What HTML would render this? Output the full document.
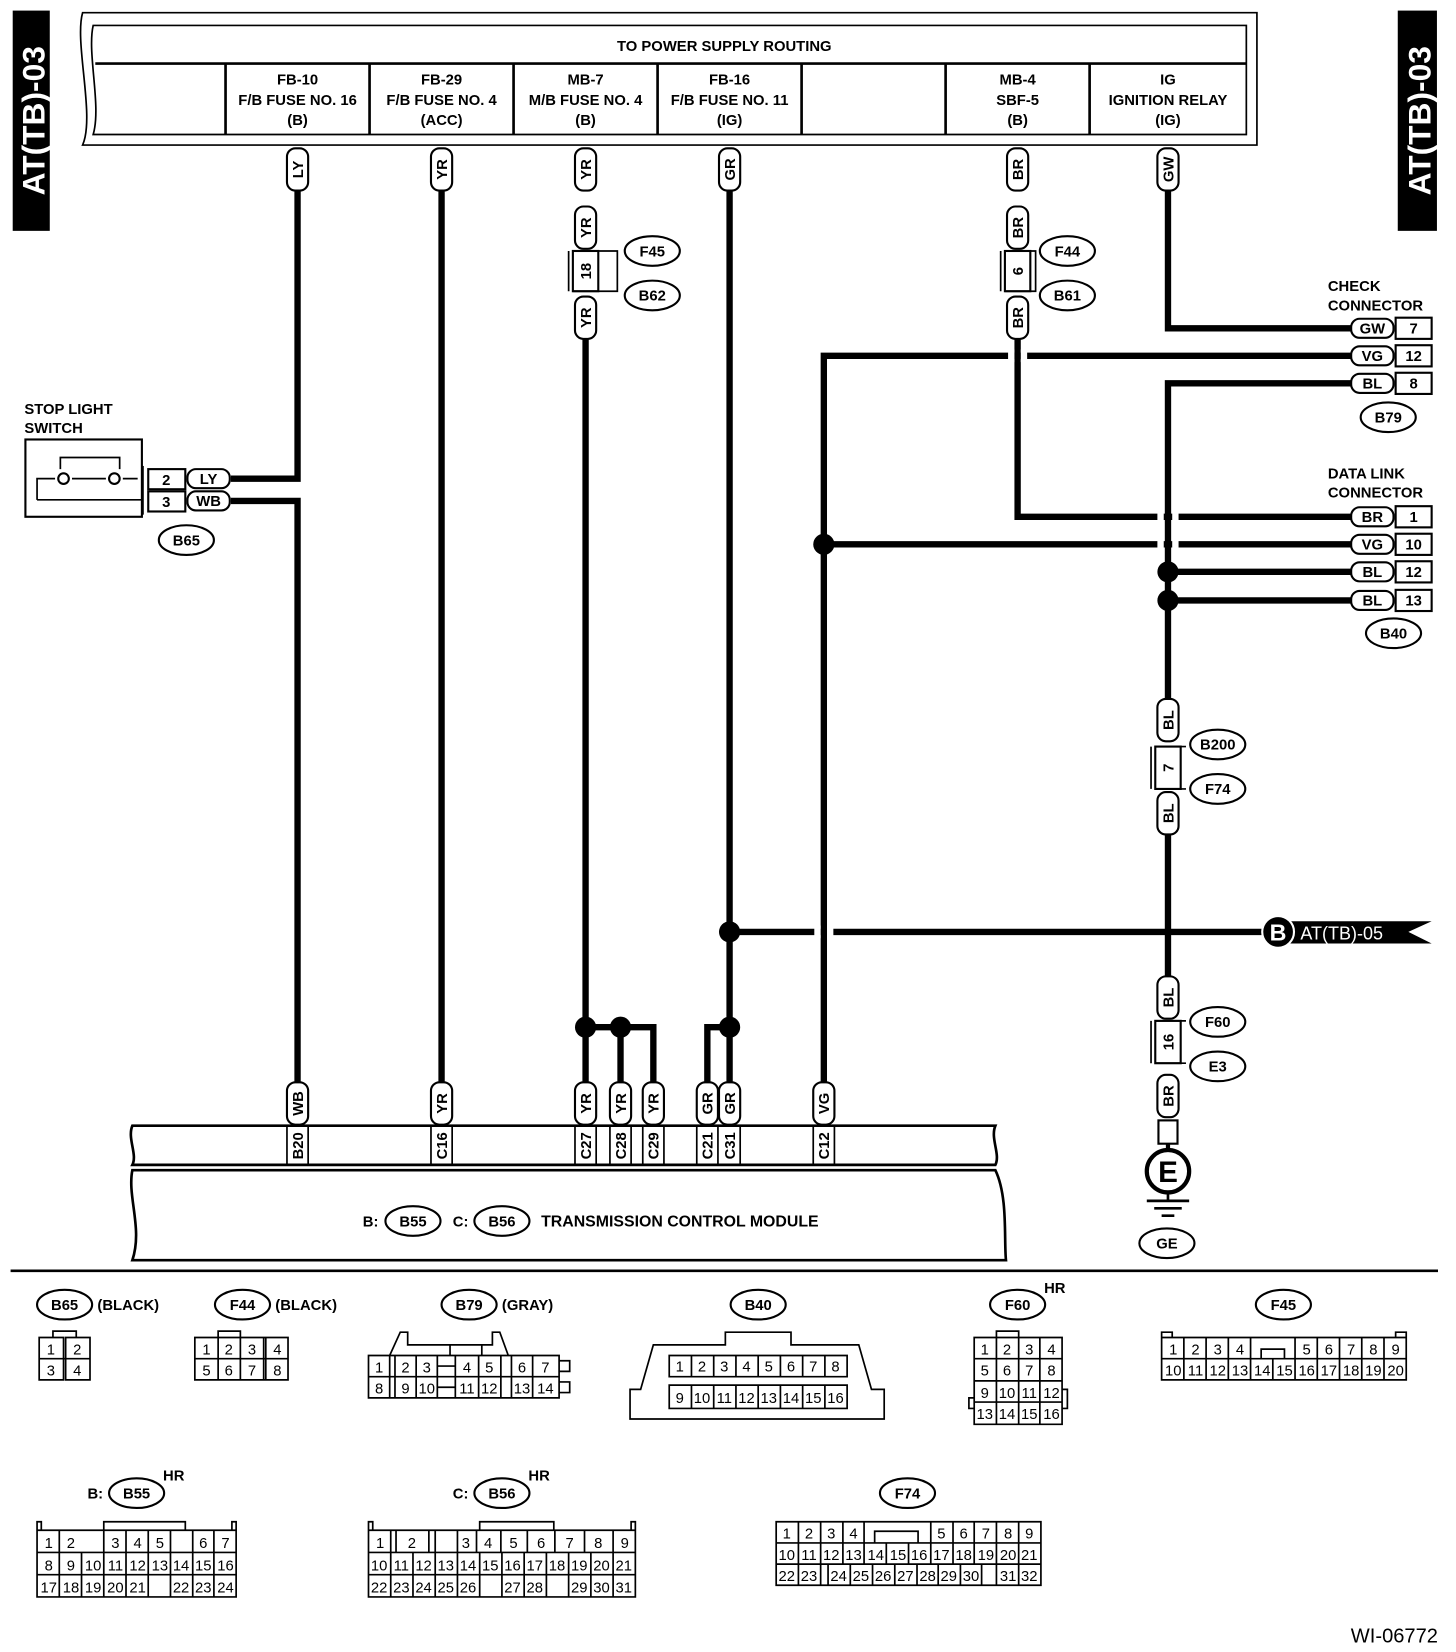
<!DOCTYPE html>
<html><head><meta charset="utf-8"><style>
html,body{margin:0;padding:0;background:#fff}
svg{display:block}
text{font-family:"Liberation Sans",Arial,sans-serif;fill:#000}
.b{font-weight:bold;font-size:14px;text-anchor:middle}
.c{font-size:14px;text-anchor:middle}
.w{fill:none;stroke:#000;stroke-width:6}
.l{fill:none;stroke:#000;stroke-width:1.6}
.p{fill:#fff;stroke:#000;stroke-width:2}
</style></head><body>
<svg width="1456" height="1652" viewBox="0 0 1375 1560" preserveAspectRatio="none" xmlns="http://www.w3.org/2000/svg">
<!-- side tabs -->
<rect x="12" y="10" width="35" height="208" fill="#000"/>
<text transform="translate(42,114) rotate(-90)" style="font-size:30px;font-weight:bold;fill:#fff;text-anchor:middle">AT(TB)-03</text>
<rect x="1320" y="10" width="37" height="208" fill="#000"/>
<text transform="translate(1351,114) rotate(-90)" style="font-size:30px;font-weight:bold;fill:#fff;text-anchor:middle">AT(TB)-03</text>

<!-- top box -->
<path class="l" d="M78,12 H1187 V137 H78 C90,110 70,40 78,12 Z" stroke-width="3"/>
<path class="l" d="M88,24 H1177 V127 H88 C96,100 82,50 88,24 Z" stroke-width="3"/>
<line x1="90" y1="60" x2="1177" y2="60" stroke="#000" stroke-width="2.5"/>
<path stroke="#000" stroke-width="2.5" d="M213,60V127M349,60V127M485,60V127M621,60V127M757,60V127M893,60V127M1029,60V127"/>
<text class="b" x="684" y="48">TO POWER SUPPLY ROUTING</text>
<g class="b">
<text class="b" x="281" y="80">FB-10</text><text class="b" x="281" y="99">F/B FUSE NO. 16</text><text class="b" x="281" y="118">(B)</text>
<text class="b" x="417" y="80">FB-29</text><text class="b" x="417" y="99">F/B FUSE NO. 4</text><text class="b" x="417" y="118">(ACC)</text>
<text class="b" x="553" y="80">MB-7</text><text class="b" x="553" y="99">M/B FUSE NO. 4</text><text class="b" x="553" y="118">(B)</text>
<text class="b" x="689" y="80">FB-16</text><text class="b" x="689" y="99">F/B FUSE NO. 11</text><text class="b" x="689" y="118">(IG)</text>
<text class="b" x="961" y="80">MB-4</text><text class="b" x="961" y="99">SBF-5</text><text class="b" x="961" y="118">(B)</text>
<text class="b" x="1103" y="80">IG</text><text class="b" x="1103" y="99">IGNITION RELAY</text><text class="b" x="1103" y="118">(IG)</text>
</g>

<!-- wires -->
<path class="w" d="M281,180V452H218"/>
<path class="w" d="M218,473H281V1025"/>
<path class="w" d="M417,180V1025"/>
<path class="w" d="M553,320V1025M553,970H617V1025M586,970V1025"/>
<path class="w" d="M689,180V1025M689,970H668V1025"/>
<path class="w" d="M961,320V488H1278"/>
<path class="w" d="M1103,180V310H1278"/>
<path class="w" d="M778,1025V336H1278"/>
<path class="w" d="M778,514H1278"/>
<path class="w" d="M1278,362H1103V660"/>
<path class="w" d="M1103,540H1278M1103,567H1278"/>
<path class="w" d="M1103,788V922"/>
<path class="w" d="M689,880H1195"/>
<!-- crossing gaps -->
<rect x="952" y="330" width="6" height="12" fill="#fff"/><rect x="964" y="330" width="6" height="12" fill="#fff"/>
<rect x="1093" y="482" width="6" height="12" fill="#fff"/><rect x="1107" y="482" width="6" height="12" fill="#fff"/>
<rect x="1093" y="508" width="6" height="12" fill="#fff"/><rect x="1107" y="508" width="6" height="12" fill="#fff"/>
<rect x="769" y="874" width="6" height="12" fill="#fff"/><rect x="781" y="874" width="6" height="12" fill="#fff"/>
<!-- junction dots -->
<g fill="#000"><circle cx="778" cy="514" r="10"/><circle cx="1103" cy="540" r="10"/><circle cx="1103" cy="567" r="10"/><circle cx="689" cy="880" r="10"/><circle cx="553" cy="970" r="10"/><circle cx="586" cy="970" r="10"/><circle cx="689" cy="970" r="10"/></g>

<!-- vertical pills -->
<g>
<rect class="p" x="271" y="140" width="20" height="40" rx="8"/><text class="b" transform="translate(286,160) rotate(-90)">LY</text>
<rect class="p" x="407" y="140" width="20" height="40" rx="8"/><text class="b" transform="translate(422,160) rotate(-90)">YR</text>
<rect class="p" x="543" y="140" width="20" height="40" rx="8"/><text class="b" transform="translate(558,160) rotate(-90)">YR</text>
<rect class="p" x="679" y="140" width="20" height="40" rx="8"/><text class="b" transform="translate(694,160) rotate(-90)">GR</text>
<rect class="p" x="951" y="140" width="20" height="40" rx="8"/><text class="b" transform="translate(966,160) rotate(-90)">BR</text>
<rect class="p" x="1093" y="140" width="20" height="40" rx="8"/><text class="b" transform="translate(1108,160) rotate(-90)">GW</text>
<rect class="p" x="543" y="195" width="20" height="40" rx="8"/><text class="b" transform="translate(558,215) rotate(-90)">YR</text>
<rect class="p" x="543" y="280" width="20" height="40" rx="8"/><text class="b" transform="translate(558,300) rotate(-90)">YR</text>
<rect class="p" x="951" y="195" width="20" height="40" rx="8"/><text class="b" transform="translate(966,215) rotate(-90)">BR</text>
<rect class="p" x="951" y="280" width="20" height="40" rx="8"/><text class="b" transform="translate(966,300) rotate(-90)">BR</text>
<rect class="p" x="1093" y="660" width="20" height="40" rx="8"/><text class="b" transform="translate(1108,680) rotate(-90)">BL</text>
<rect class="p" x="1093" y="748" width="20" height="40" rx="8"/><text class="b" transform="translate(1108,768) rotate(-90)">BL</text>
<rect class="p" x="1093" y="922" width="20" height="40" rx="8"/><text class="b" transform="translate(1108,942) rotate(-90)">BL</text>
<rect class="p" x="1093" y="1015" width="20" height="40" rx="8"/><text class="b" transform="translate(1108,1035) rotate(-90)">BR</text>
<rect class="p" x="271" y="1022" width="20" height="40" rx="8"/><text class="b" transform="translate(286,1042) rotate(-90)">WB</text>
<rect class="p" x="407" y="1022" width="20" height="40" rx="8"/><text class="b" transform="translate(422,1042) rotate(-90)">YR</text>
<rect class="p" x="543" y="1022" width="20" height="40" rx="8"/><text class="b" transform="translate(558,1042) rotate(-90)">YR</text>
<rect class="p" x="576" y="1022" width="20" height="40" rx="8"/><text class="b" transform="translate(591,1042) rotate(-90)">YR</text>
<rect class="p" x="607" y="1022" width="20" height="40" rx="8"/><text class="b" transform="translate(622,1042) rotate(-90)">YR</text>
<rect class="p" x="658" y="1022" width="20" height="40" rx="8"/><text class="b" transform="translate(673,1042) rotate(-90)">GR</text>
<rect class="p" x="679" y="1022" width="20" height="40" rx="8"/><text class="b" transform="translate(694,1042) rotate(-90)">GR</text>
<rect class="p" x="768" y="1022" width="20" height="40" rx="8"/><text class="b" transform="translate(783,1042) rotate(-90)">VG</text>
</g>
<!-- inline connectors -->
<rect class="p" x="541" y="237" width="24" height="38"/><path class="l" d="M541,237H583V275H541M537,237V275" stroke-width="2"/><text class="b" transform="translate(558,256) rotate(-90)">18</text>
<rect class="p" x="949" y="237" width="24" height="38"/><path class="l" d="M949,237H978V275H949M945,237V275" stroke-width="2"/><text class="b" transform="translate(966,256) rotate(-90)">6</text>
<rect class="p" x="1091" y="705" width="24" height="40"/><path class="l" d="M1087,705V745M1091,705H1120M1091,745H1120" stroke-width="2"/><text class="b" transform="translate(1108,725) rotate(-90)">7</text>
<rect class="p" x="1091" y="964" width="24" height="40"/><path class="l" d="M1087,964V1004M1091,964H1120M1091,1004H1120" stroke-width="2"/><text class="b" transform="translate(1108,984) rotate(-90)">16</text>
<!-- ground -->
<rect class="p" x="1094" y="1058" width="18" height="22"/>
<line x1="1103" y1="1080" x2="1103" y2="1085" stroke="#000" stroke-width="4"/>
<circle cx="1103" cy="1106" r="20" fill="#fff" stroke="#000" stroke-width="4"/>
<text x="1103" y="1116" style="font-size:28px;font-weight:bold;text-anchor:middle">E</text>
<path stroke="#000" stroke-width="2.5" d="M1103,1126V1134M1083,1134H1123M1090,1141H1116M1097,1148H1109"/>

<!-- ovals -->
<g>
<ellipse class="p" cx="616" cy="237" rx="26" ry="14"/><text class="b" x="616" y="242">F45</text>
<ellipse class="p" cx="616" cy="279" rx="26" ry="14"/><text class="b" x="616" y="284">B62</text>
<ellipse class="p" cx="1008" cy="237" rx="26" ry="14"/><text class="b" x="1008" y="242">F44</text>
<ellipse class="p" cx="1008" cy="279" rx="26" ry="14"/><text class="b" x="1008" y="284">B61</text>
<ellipse class="p" cx="1311" cy="394" rx="26" ry="14"/><text class="b" x="1311" y="399">B79</text>
<ellipse class="p" cx="1316" cy="598" rx="26" ry="14"/><text class="b" x="1316" y="603">B40</text>
<ellipse class="p" cx="1150" cy="703" rx="26" ry="14"/><text class="b" x="1150" y="708">B200</text>
<ellipse class="p" cx="1150" cy="745" rx="26" ry="14"/><text class="b" x="1150" y="750">F74</text>
<ellipse class="p" cx="1150" cy="965" rx="26" ry="14"/><text class="b" x="1150" y="970">F60</text>
<ellipse class="p" cx="1150" cy="1007" rx="26" ry="14"/><text class="b" x="1150" y="1012">E3</text>
<ellipse class="p" cx="1102" cy="1174" rx="26" ry="14"/><text class="b" x="1102" y="1179">GE</text>
<ellipse class="p" cx="176" cy="510" rx="26" ry="14"/><text class="b" x="176" y="515">B65</text>
</g>

<!-- stop light switch -->
<text x="23" y="391" style="font-size:14px;font-weight:bold">STOP LIGHT</text>
<text x="23" y="409" style="font-size:14px;font-weight:bold">SWITCH</text>
<rect x="24" y="415" width="110" height="73" fill="#fff" stroke="#000" stroke-width="2"/>
<path class="l" stroke-width="2" d="M35,472V452H52M68,452H100M116,452H130M57,443V432H113V443M35,472H134"/>
<circle cx="60" cy="452" r="5" fill="#fff" stroke="#000" stroke-width="2"/><circle cx="108" cy="452" r="5" fill="#fff" stroke="#000" stroke-width="2"/>
<rect class="p" x="140" y="443" width="35" height="19"/><rect class="p" x="140" y="464" width="35" height="19"/>
<path class="l" stroke-width="2" d="M135,440V486"/>
<text class="b" x="157" y="458">2</text><text class="b" x="157" y="479">3</text>
<rect class="p" x="177" y="443" width="40" height="18" rx="8"/><text class="b" x="197" y="457">LY</text>
<rect class="p" x="177" y="464" width="40" height="18" rx="8"/><text class="b" x="197" y="478">WB</text>

<!-- check connector -->
<text x="1254" y="275" style="font-size:14px;font-weight:bold">CHECK</text>
<text x="1254" y="293" style="font-size:14px;font-weight:bold">CONNECTOR</text>
<g>
<rect class="p" x="1276" y="301" width="40" height="18" rx="8"/><text class="b" x="1296" y="315">GW</text>
<rect class="p" x="1276" y="327" width="40" height="18" rx="8"/><text class="b" x="1296" y="341">VG</text>
<rect class="p" x="1276" y="353" width="40" height="18" rx="8"/><text class="b" x="1296" y="367">BL</text>
<rect class="p" x="1318" y="300" width="34" height="20"/><rect class="p" x="1318" y="326" width="34" height="20"/><rect class="p" x="1318" y="352" width="34" height="20"/>
<text class="b" x="1335" y="315">7</text><text class="b" x="1335" y="341">12</text><text class="b" x="1335" y="367">8</text>
</g>
<!-- data link connector -->
<text x="1254" y="452" style="font-size:14px;font-weight:bold">DATA LINK</text>
<text x="1254" y="470" style="font-size:14px;font-weight:bold">CONNECTOR</text>
<g>
<rect class="p" x="1276" y="479" width="40" height="18" rx="8"/><text class="b" x="1296" y="493">BR</text>
<rect class="p" x="1276" y="505" width="40" height="18" rx="8"/><text class="b" x="1296" y="519">VG</text>
<rect class="p" x="1276" y="531" width="40" height="18" rx="8"/><text class="b" x="1296" y="545">BL</text>
<rect class="p" x="1276" y="558" width="40" height="18" rx="8"/><text class="b" x="1296" y="572">BL</text>
<rect class="p" x="1318" y="478" width="34" height="20"/><rect class="p" x="1318" y="504" width="34" height="20"/><rect class="p" x="1318" y="530" width="34" height="20"/><rect class="p" x="1318" y="557" width="34" height="20"/>
<text class="b" x="1335" y="493">1</text><text class="b" x="1335" y="519">10</text><text class="b" x="1335" y="545">12</text><text class="b" x="1335" y="572">13</text>
</g>
<!-- AT(TB)-05 flag -->
<path d="M1207,870H1352L1330,880L1352,891H1207Z" fill="#000"/>
<circle cx="1207" cy="880" r="15" fill="#000" stroke="#fff" stroke-width="2"/>
<text x="1207" y="888" style="font-size:22px;font-weight:bold;fill:#fff;text-anchor:middle">B</text>
<text x="1228" y="887" style="font-size:17px;fill:#fff">AT(TB)-05</text>

<!-- TCM -->
<path d="M125,1063H940C935,1075 945,1090 940,1100H125C130,1090 120,1075 125,1063Z" fill="#fff" stroke="#000" stroke-width="2.5"/>
<path d="M125,1105H940C952,1130 948,1170 950,1190H125C135,1160 120,1130 125,1105Z" fill="#fff" stroke="#000" stroke-width="2.5"/>
<path stroke="#000" stroke-width="1.6" d="M271,1063V1100M291,1063V1100M407,1063V1100M427,1063V1100M543,1063V1100M563,1063V1100M576,1063V1100M596,1063V1100M607,1063V1100M627,1063V1100M658,1063V1100M678,1063V1100M699,1063V1100M768,1063V1100M788,1063V1100"/>
<g>
<text class="b" transform="translate(286,1082) rotate(-90)">B20</text>
<text class="b" transform="translate(422,1082) rotate(-90)">C16</text>
<text class="b" transform="translate(558,1082) rotate(-90)">C27</text>
<text class="b" transform="translate(591,1082) rotate(-90)">C28</text>
<text class="b" transform="translate(622,1082) rotate(-90)">C29</text>
<text class="b" transform="translate(673,1082) rotate(-90)">C21</text>
<text class="b" transform="translate(694,1082) rotate(-90)">C31</text>
<text class="b" transform="translate(783,1082) rotate(-90)">C12</text>
</g>
<text class="b" x="350" y="1158">B:</text>
<ellipse class="p" cx="390" cy="1153" rx="26" ry="14"/><text class="b" x="390" y="1158">B55</text>
<text class="b" x="435" y="1158">C:</text>
<ellipse class="p" cx="474" cy="1153" rx="26" ry="14"/><text class="b" x="474" y="1158">B56</text>
<text x="511" y="1158" style="font-size:15px;font-weight:bold">TRANSMISSION CONTROL MODULE</text>

<line x1="10" y1="1200" x2="1358" y2="1200" stroke="#000" stroke-width="2.5"/>

<!-- bottom connector labels -->
<g>
<ellipse class="p" cx="61" cy="1232" rx="26" ry="14"/><text class="b" x="61" y="1237">B65</text><text x="92" y="1237" style="font-size:14px;font-weight:bold">(BLACK)</text>
<ellipse class="p" cx="229" cy="1232" rx="26" ry="14"/><text class="b" x="229" y="1237">F44</text><text x="260" y="1237" style="font-size:14px;font-weight:bold">(BLACK)</text>
<ellipse class="p" cx="443" cy="1232" rx="26" ry="14"/><text class="b" x="443" y="1237">B79</text><text x="474" y="1237" style="font-size:14px;font-weight:bold">(GRAY)</text>
<ellipse class="p" cx="716" cy="1232" rx="26" ry="14"/><text class="b" x="716" y="1237">B40</text>
<ellipse class="p" cx="961" cy="1232" rx="26" ry="14"/><text class="b" x="961" y="1237">F60</text><text x="986" y="1221" style="font-size:14px;font-weight:bold">HR</text>
<ellipse class="p" cx="1212" cy="1232" rx="26" ry="14"/><text class="b" x="1212" y="1237">F45</text>
<text class="b" x="90" y="1415">B:</text><ellipse class="p" cx="129" cy="1410" rx="26" ry="14"/><text class="b" x="129" y="1415">B55</text><text x="154" y="1398" style="font-size:14px;font-weight:bold">HR</text>
<text class="b" x="435" y="1415">C:</text><ellipse class="p" cx="474" cy="1410" rx="26" ry="14"/><text class="b" x="474" y="1415">B56</text><text x="499" y="1398" style="font-size:14px;font-weight:bold">HR</text>
<ellipse class="p" cx="857" cy="1410" rx="26" ry="14"/><text class="b" x="857" y="1415">F74</text>
</g>

<!-- B65 grid -->
<path class="l" d="M37,1263H60V1303H37ZM62,1263H85V1303H62ZM37,1283H85M50,1263V1257H72V1263"/>
<text class="c" x="48" y="1279">1</text><text class="c" x="73" y="1279">2</text><text class="c" x="48" y="1299">3</text><text class="c" x="73" y="1299">4</text>
<!-- F44 grid -->
<path class="l" d="M184,1263H272V1303H184ZM184,1283H272M206,1263V1303M227,1263V1303M249,1263V1303M251,1263V1303M206,1263V1257H227V1263"/>
<text class="c" x="195" y="1279">1</text><text class="c" x="216" y="1279">2</text><text class="c" x="238" y="1279">3</text><text class="c" x="262" y="1279">4</text>
<text class="c" x="195" y="1299">5</text><text class="c" x="216" y="1299">6</text><text class="c" x="238" y="1299">7</text><text class="c" x="262" y="1299">8</text>
<!-- B79 grid -->
<path class="l" d="M348,1280H528V1320H348ZM348,1300H528M368,1280V1320M373,1280V1320M393,1280V1320M413,1280V1320M430,1280V1320M452,1280V1320M473,1280V1320M483,1280V1320M503,1280V1320M413,1290H430M413,1310H430M528,1285H538V1295H528M528,1305H538V1315H528M368,1280L378,1258H385V1270H465V1258H472L480,1280M425,1270V1280M455,1270V1280"/>
<text class="c" x="358" y="1296">1</text><text class="c" x="383" y="1296">2</text><text class="c" x="403" y="1296">3</text><text class="c" x="441" y="1296">4</text><text class="c" x="462" y="1296">5</text><text class="c" x="493" y="1296">6</text><text class="c" x="515" y="1296">7</text>
<text class="c" x="358" y="1316">8</text><text class="c" x="383" y="1316">9</text><text class="c" x="403" y="1316">10</text><text class="c" x="441" y="1316">11</text><text class="c" x="462" y="1316">12</text><text class="c" x="493" y="1316">13</text><text class="c" x="515" y="1316">14</text>
<!-- B40 -->
<path class="l" d="M595,1340V1312H605L617,1270H685V1258H747V1270H811L823,1312H835V1340Z"/>
<path class="l" d="M632,1280H800V1300H632ZM632,1308H800V1330H632ZM653,1280V1300M674,1280V1300M695,1280V1300M716,1280V1300M737,1280V1300M758,1280V1300M779,1280V1300M653,1308V1330M674,1308V1330M695,1308V1330M716,1308V1330M737,1308V1330M758,1308V1330M779,1308V1330"/>
<text class="c" x="642" y="1295">1</text><text class="c" x="663" y="1295">2</text><text class="c" x="684" y="1295">3</text><text class="c" x="705" y="1295">4</text><text class="c" x="726" y="1295">5</text><text class="c" x="747" y="1295">6</text><text class="c" x="768" y="1295">7</text><text class="c" x="789" y="1295">8</text>
<text class="c" x="642" y="1325">9</text><text class="c" x="663" y="1325">10</text><text class="c" x="684" y="1325">11</text><text class="c" x="705" y="1325">12</text><text class="c" x="726" y="1325">13</text><text class="c" x="747" y="1325">14</text><text class="c" x="768" y="1325">15</text><text class="c" x="789" y="1325">16</text>
<!-- F60 -->
<path class="l" d="M920,1263H1003V1345H920ZM920,1283H1003M920,1304H1003M920,1324H1003M941,1263V1345M962,1263V1345M982,1263V1345M941,1263V1257H962V1263M1003,1312H1008V1330H1003M920,1320H915V1330H920"/>
<text class="c" x="930" y="1279">1</text><text class="c" x="951" y="1279">2</text><text class="c" x="972" y="1279">3</text><text class="c" x="993" y="1279">4</text>
<text class="c" x="930" y="1299">5</text><text class="c" x="951" y="1299">6</text><text class="c" x="972" y="1299">7</text><text class="c" x="993" y="1299">8</text>
<text class="c" x="930" y="1320">9</text><text class="c" x="951" y="1320">10</text><text class="c" x="972" y="1320">11</text><text class="c" x="993" y="1320">12</text>
<text class="c" x="930" y="1340">13</text><text class="c" x="951" y="1340">14</text><text class="c" x="972" y="1340">15</text><text class="c" x="993" y="1340">16</text>
<!-- F45 -->
<path class="l" d="M1097,1263H1328V1303H1097ZM1097,1283H1328M1118,1263V1303M1139,1263V1303M1160,1263V1303M1181,1263V1303M1202,1283V1303M1223,1263V1303M1244,1263V1303M1265,1263V1303M1286,1263V1303M1307,1263V1303M1181,1263H1223M1097,1263V1258H1107V1263M1318,1263V1258H1328V1263"/>
<rect x="1182" y="1264" width="40" height="18" fill="#fff"/><path class="l" d="M1191,1283V1274H1213V1283"/>
<text class="c" x="1108" y="1279">1</text><text class="c" x="1129" y="1279">2</text><text class="c" x="1150" y="1279">3</text><text class="c" x="1171" y="1279">4</text><text class="c" x="1234" y="1279">5</text><text class="c" x="1255" y="1279">6</text><text class="c" x="1276" y="1279">7</text><text class="c" x="1297" y="1279">8</text><text class="c" x="1318" y="1279">9</text>
<text class="c" x="1108" y="1299">10</text><text class="c" x="1129" y="1299">11</text><text class="c" x="1150" y="1299">12</text><text class="c" x="1171" y="1299">13</text><text class="c" x="1192" y="1299">14</text><text class="c" x="1213" y="1299">15</text><text class="c" x="1234" y="1299">16</text><text class="c" x="1255" y="1299">17</text><text class="c" x="1276" y="1299">18</text><text class="c" x="1297" y="1299">19</text><text class="c" x="1318" y="1299">20</text>
<!-- B55 -->
<path class="l" d="M35,1445H223V1508H35ZM35,1466H223M35,1487H223M56,1445V1508M77,1466V1508M98,1445V1508M119,1445V1508M140,1445V1508M161,1445V1508M182,1445V1508M202,1445V1508M77,1445H98M35,1445V1437H39V1445M219,1445V1437H223V1445M98,1445V1437H175V1445"/>
<text class="c" x="46" y="1462">1</text><text class="c" x="67" y="1462">2</text><text class="c" x="109" y="1462">3</text><text class="c" x="130" y="1462">4</text><text class="c" x="151" y="1462">5</text><text class="c" x="192" y="1462">6</text><text class="c" x="213" y="1462">7</text>
<text class="c" x="46" y="1483">8</text><text class="c" x="67" y="1483">9</text><text class="c" x="88" y="1483">10</text><text class="c" x="109" y="1483">11</text><text class="c" x="130" y="1483">12</text><text class="c" x="151" y="1483">13</text><text class="c" x="171" y="1483">14</text><text class="c" x="192" y="1483">15</text><text class="c" x="213" y="1483">16</text>
<rect x="141" y="1488" width="19" height="19" fill="#fff"/>
<text class="c" x="46" y="1504">17</text><text class="c" x="67" y="1504">18</text><text class="c" x="88" y="1504">19</text><text class="c" x="109" y="1504">20</text><text class="c" x="130" y="1504">21</text><text class="c" x="171" y="1504">22</text><text class="c" x="192" y="1504">23</text><text class="c" x="213" y="1504">24</text>
<!-- B56 -->
<path class="l" d="M348,1445H600V1508H348ZM348,1466H600M348,1487H600M369,1445V1508M390,1466V1508M411,1445V1508M432,1445V1508M453,1466V1508M474,1466V1508M495,1466V1508M516,1466V1508M537,1466V1508M558,1466V1508M579,1445V1508M348,1445V1437H352V1445M596,1445V1437H600V1445M453,1445V1437H523V1445M374,1445V1466M405,1445V1466M450,1445V1466M473,1445V1466M498,1445V1466M524,1445V1466M552,1445V1466"/>
<text class="c" x="359" y="1462">1</text><text class="c" x="389" y="1462">2</text><text class="c" x="440" y="1462">3</text><text class="c" x="461" y="1462">4</text><text class="c" x="485" y="1462">5</text><text class="c" x="511" y="1462">6</text><text class="c" x="538" y="1462">7</text><text class="c" x="565" y="1462">8</text><text class="c" x="590" y="1462">9</text>
<text class="c" x="358" y="1483">10</text><text class="c" x="379" y="1483">11</text><text class="c" x="400" y="1483">12</text><text class="c" x="421" y="1483">13</text><text class="c" x="442" y="1483">14</text><text class="c" x="463" y="1483">15</text><text class="c" x="484" y="1483">16</text><text class="c" x="505" y="1483">17</text><text class="c" x="526" y="1483">18</text><text class="c" x="547" y="1483">19</text><text class="c" x="568" y="1483">20</text><text class="c" x="589" y="1483">21</text>
<text class="c" x="358" y="1504">22</text><text class="c" x="379" y="1504">23</text><text class="c" x="400" y="1504">24</text><text class="c" x="421" y="1504">25</text><text class="c" x="442" y="1504">26</text><text class="c" x="484" y="1504">27</text><text class="c" x="505" y="1504">28</text><text class="c" x="547" y="1504">29</text><text class="c" x="568" y="1504">30</text><text class="c" x="589" y="1504">31</text>
<!-- F74 -->
<path class="l" d="M733,1437H983V1497H733ZM733,1457H983M733,1477H983M754,1437V1477M775,1437V1477M796,1437V1477M816,1437V1477M837,1457V1477M858,1457V1477M879,1437V1477M900,1437V1477M920,1437V1477M941,1437V1477M962,1437V1477M826,1457V1446H867V1457
M754,1477V1497M775,1477V1497M782,1477V1497M803,1477V1497M824,1477V1497M845,1477V1497M866,1477V1497M886,1477V1497M907,1477V1497M927,1477V1497M941,1477V1497M962,1477V1497"/>
<text class="c" x="743" y="1453">1</text><text class="c" x="764" y="1453">2</text><text class="c" x="785" y="1453">3</text><text class="c" x="806" y="1453">4</text><text class="c" x="889" y="1453">5</text><text class="c" x="910" y="1453">6</text><text class="c" x="931" y="1453">7</text><text class="c" x="952" y="1453">8</text><text class="c" x="972" y="1453">9</text>
<text class="c" x="743" y="1473">10</text><text class="c" x="764" y="1473">11</text><text class="c" x="785" y="1473">12</text><text class="c" x="806" y="1473">13</text><text class="c" x="827" y="1473">14</text><text class="c" x="848" y="1473">15</text><text class="c" x="868" y="1473">16</text><text class="c" x="889" y="1473">17</text><text class="c" x="910" y="1473">18</text><text class="c" x="931" y="1473">19</text><text class="c" x="952" y="1473">20</text><text class="c" x="972" y="1473">21</text>
<text class="c" x="743" y="1493">22</text><text class="c" x="764" y="1493">23</text><text class="c" x="792" y="1493">24</text><text class="c" x="813" y="1493">25</text><text class="c" x="834" y="1493">26</text><text class="c" x="855" y="1493">27</text><text class="c" x="876" y="1493">28</text><text class="c" x="896" y="1493">29</text><text class="c" x="917" y="1493">30</text><text class="c" x="952" y="1493">31</text><text class="c" x="972" y="1493">32</text>

<text x="1358" y="1551" style="font-size:19px;text-anchor:end">WI-06772</text>
</svg>
</body></html>
